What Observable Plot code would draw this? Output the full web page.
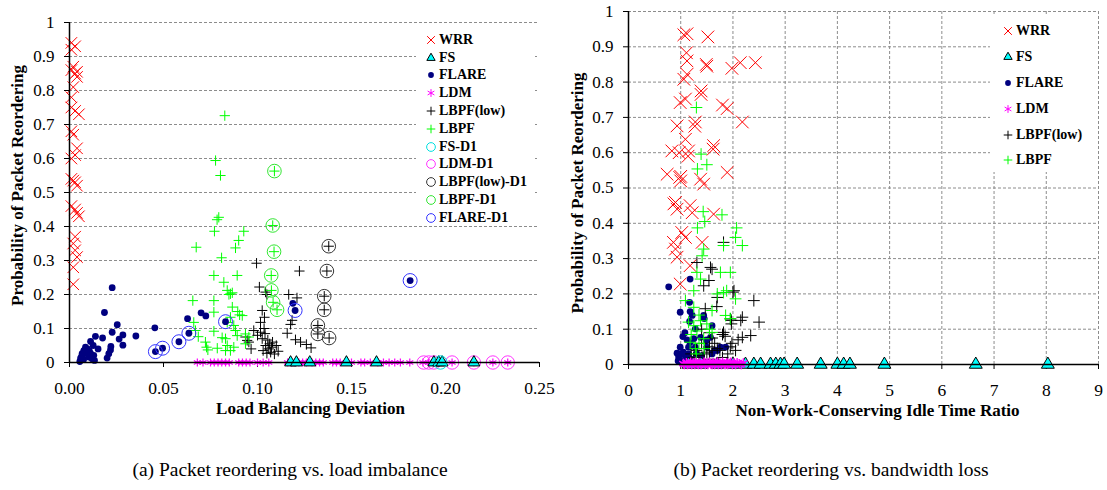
<!DOCTYPE html>
<html><head><meta charset="utf-8">
<script src="https://cdn.jsdelivr.net/npm/d3@7"></script>
<script src="https://cdn.jsdelivr.net/npm/@observablehq/plot@0.6"></script>
<style>
body{margin:0;background:#fff;font-family:"Liberation Serif","Times New Roman",serif;}
#wrap{position:relative;width:1107px;height:490px;overflow:hidden;background:#fff;}
.panel{position:absolute;top:0;}
.legend{position:absolute;background:#fff;font-weight:bold;font-size:14px;color:#000;box-sizing:border-box;}
.legend .row{display:flex;align-items:center;white-space:nowrap;}
.legend svg{flex:none;}
.cap{position:absolute;top:459px;font-size:19.5px;text-align:center;width:540px;color:#000;}
</style></head>
<body><div id="wrap">
<div id="pa" class="panel" style="left:0"></div>
<div id="pb" class="panel" style="left:560px"></div>
<div id="la" class="legend" style="left:416px;top:27px;width:119px;height:196px;padding-top:4px"></div>
<div id="lb" class="legend" style="left:990px;top:14px;width:106px;height:158px;padding-top:4px"></div>
<div class="cap" style="left:20px">(a) Packet reordering vs. load imbalance</div>
<div class="cap" style="left:561px">(b) Packet reordering vs. bandwidth loss</div>
</div>
<script>
// ---------- tick labels & titles ----------
const yTicks = [0, 0.1, 0.2, 0.3, 0.4, 0.5, 0.6, 0.7, 0.8, 0.9, 1];
const xTicksA = [0, 0.05, 0.1, 0.15, 0.2, 0.25];
const xTicksB = [0, 1, 2, 3, 4, 5, 6, 7, 8, 9];
const yTitle = "Probability of Packet Reordering";
const xTitleA = "Load Balancing Deviation";
const xTitleB = "Non-Work-Conserving Idle Time Ratio";
const legendA = ["WRR", "FS", "FLARE", "LDM", "LBPF(low)", "LBPF", "FS-D1", "LDM-D1", "LBPF(low)-D1", "LBPF-D1", "FLARE-D1"];
const legendB = ["WRR", "FS", "FLARE", "LDM", "LBPF(low)", "LBPF"];

// ---------- panel (a): [load balancing deviation, probability] ----------
const WRR_a = [[0.001,0.94],[0.003,0.93],[0.001,0.92],[0.002,0.87],[0.003,0.85],[0.004,0.84],[0.001,0.86],[0.004,0.855],[0.002,0.81],[0.001,0.78],[0.001,0.75],[0.003,0.74],[0.005,0.73],[0.001,0.68],[0.002,0.67],[0.004,0.63],[0.003,0.61],[0.001,0.60],[0.001,0.54],[0.003,0.53],[0.004,0.52],[0.002,0.535],[0.001,0.46],[0.003,0.45],[0.004,0.44],[0.005,0.43],[0.003,0.37],[0.002,0.35],[0.003,0.33],[0.004,0.31],[0.002,0.28],[0.002,0.23]];
const FS_a = [[0.1176,0],[0.1207,0],[0.1278,0],[0.1473,0],[0.1633,0],[0.1938,0],[0.1964,0],[0.1982,0],[0.2151,0]];
const FLARE_a = [[0.0227,0.22],[0.0186,0.147],[0.0254,0.111],[0.0227,0.089],[0.0284,0.081],[0.0353,0.078],[0.0264,0.069],[0.0284,0.051],[0.022,0.047],[0.0138,0.077],[0.0176,0.072],[0.0112,0.062],[0.0126,0.05],[0.0152,0.04],[0.0218,0.037],[0.0209,0.026],[0.02,0.013],[0.0085,0.045],[0.0076,0.035],[0.0067,0.026],[0.0059,0.013],[0.0055,0.003],[0.0094,0.026],[0.0103,0.016],[0.0112,0.027],[0.0129,0.021],[0.012,0.011],[0.0133,0.006],[0.0454,0.102],[0.0457,0.032],[0.0495,0.042],[0.0582,0.061],[0.0635,0.086],[0.0628,0.129],[0.070,0.146],[0.0725,0.137],[0.083,0.12],[0.1188,0.174],[0.120,0.153],[0.1812,0.241],[0.0095,0.04],[0.0105,0.035],[0.0065,0.018],[0.0075,0.009]];
const LDM_a = [[0.068,0],[0.071,0],[0.075,0],[0.077,0],[0.079,0],[0.081,0],[0.083,0],[0.085,0],[0.09,0],[0.092,0],[0.094,0],[0.096,0],[0.1,0],[0.103,0],[0.106,0],[0.116,0],[0.118,0],[0.12,0],[0.122,0],[0.124,0],[0.126,0],[0.129,0],[0.131,0],[0.133,0],[0.135,0],[0.14,0],[0.142,0],[0.144,0],[0.15,0],[0.155,0],[0.157,0],[0.16,0],[0.164,0],[0.167,0],[0.17,0],[0.173,0],[0.176,0],[0.181,0],[0.188,0],[0.191,0],[0.194,0],[0.2035,0],[0.2151,0],[0.2252,0],[0.2331,0]];
const LOW_a = [[0.0995,0.292],[0.101,0.222],[0.1043,0.207],[0.105,0.2],[0.1223,0.269],[0.1166,0.2],[0.121,0.19],[0.1025,0.153],[0.1037,0.133],[0.1016,0.118],[0.0936,0.075],[0.0954,0.06],[0.0966,0.04],[0.1016,0.089],[0.104,0.085],[0.1025,0.07],[0.1055,0.066],[0.1043,0.05],[0.106,0.04],[0.107,0.03],[0.109,0.025],[0.105,0.027],[0.1075,0.045],[0.111,0.033],[0.1176,0.112],[0.1158,0.086],[0.1184,0.124],[0.1202,0.067],[0.1229,0.06],[0.126,0.053],[0.1285,0.043],[0.098,0.094],[0.0945,0.065],[0.1035,0.1],[0.108,0.06],[0.1065,0.055],[0.1,0.08],[0.103,0.035],[0.11,0.05]];
const LBPF_a = [[0.0826,0.726],[0.0777,0.594],[0.0803,0.55],[0.0794,0.427],[0.0785,0.42],[0.0771,0.386],[0.0927,0.386],[0.09,0.359],[0.0883,0.337],[0.0674,0.339],[0.0809,0.308],[0.0768,0.256],[0.0892,0.256],[0.0821,0.236],[0.0856,0.202],[0.0866,0.205],[0.0656,0.182],[0.0768,0.182],[0.0866,0.163],[0.0768,0.148],[0.0919,0.138],[0.0856,0.133],[0.0661,0.118],[0.0839,0.118],[0.0874,0.109],[0.0883,0.094],[0.0768,0.092],[0.0812,0.073],[0.083,0.07],[0.0892,0.079],[0.0936,0.084],[0.0723,0.06],[0.0729,0.045],[0.0839,0.05],[0.0856,0.035],[0.083,0.035],[0.067,0.094],[0.0685,0.076],[0.0736,0.037],[0.0954,0.075],[0.0936,0.055],[0.0874,0.045],[0.0786,0.042],[0.0848,0.2],[0.0839,0.212],[0.0895,0.15],[0.0905,0.14]];
const FS_D1_a = [[0.1973,0]];
const LDM_D1_a = [[0.1884,0],[0.1911,0],[0.1938,0],[0.2035,0],[0.2151,0],[0.2252,0],[0.2331,0]];
const LOW_D1_a = [[0.1379,0.342],[0.1369,0.269],[0.1355,0.195],[0.1355,0.155],[0.1321,0.109],[0.1321,0.084],[0.1381,0.072]];
const LBPF_D1_a = [[0.109,0.563],[0.1081,0.403],[0.1088,0.326],[0.1073,0.256],[0.1074,0.212],[0.1083,0.177],[0.1104,0.155]];
const FLARE_D1_a = [[0.0457,0.032],[0.0495,0.042],[0.0582,0.061],[0.0635,0.086],[0.083,0.12],[0.120,0.153],[0.1812,0.241]];

// ---------- panel (b): [non-work-conserving idle time ratio, probability] ----------
const WRR_b = [[1.12,0.937],[1.06,0.934],[1.52,0.928],[1.11,0.883],[1.12,0.86],[1.49,0.85],[1.5,0.845],[2.14,0.855],[2.43,0.855],[1.98,0.839],[1.12,0.822],[1.06,0.808],[1.39,0.775],[1.39,0.765],[1.09,0.752],[0.99,0.742],[1.8,0.735],[1.89,0.725],[2.18,0.687],[1.28,0.687],[1.27,0.675],[0.93,0.676],[1.09,0.638],[1.63,0.62],[1.62,0.61],[0.83,0.605],[1.15,0.605],[1.14,0.59],[1.89,0.544],[0.74,0.539],[1.0,0.533],[1.0,0.52],[1.38,0.525],[1.44,0.511],[0.9,0.459],[0.93,0.44],[1.18,0.45],[1.22,0.43],[1.63,0.426],[1.02,0.374],[1.09,0.36],[0.86,0.346],[1.41,0.346],[0.9,0.327],[0.93,0.304],[1.18,0.28],[0.99,0.228],[0.87,0.455],[0.97,0.6],[0.98,0.53]];
const FS_b = [[1.15,0],[1.4,0],[1.7,0],[2.0,0],[2.24,0],[2.40,0],[2.53,0],[2.72,0],[2.82,0],[2.91,0],[2.98,0],[3.23,0],[3.68,0],[4.0,0],[4.12,0],[4.24,0],[4.9,0],[6.65,0],[8.03,0]];
const FLARE_b = [[0.77,0.22],[1.18,0.242],[1.17,0.176],[0.99,0.148],[1.18,0.15],[1.22,0.139],[1.17,0.122],[1.28,0.101],[1.04,0.079],[1.25,0.073],[1.18,0.063],[1.15,0.049],[0.99,0.049],[0.93,0.032],[0.96,0.021],[1.0,0.03],[1.05,0.035],[1.1,0.02],[1.15,0.03],[1.2,0.015],[0.95,0.01],[1.5,0.068],[1.57,0.077],[1.5,0.049],[1.76,0.049],[1.86,0.049],[1.70,0.04],[1.44,0.139],[1.45,0.13],[1.6,0.11],[1.38,0.077],[1.49,0.07],[1.28,0.049],[1.6,0.03],[1.65,0.04],[1.02,0.011],[1.09,0.025],[1.12,0.07],[1.08,0.09],[1.3,0.03],[1.4,0.025]];
const LDM_b = [[1.05,0.003],[1.07,0],[1.11,0.005],[1.13,0],[1.16,0.002],[1.19,0.006],[1.21,0],[1.24,0.004],[1.27,0],[1.29,0.006],[1.32,0.002],[1.34,0],[1.37,0.005],[1.39,0],[1.42,0.003],[1.45,0.006],[1.47,0],[1.5,0.004],[1.52,0],[1.55,0.006],[1.57,0.002],[1.6,0],[1.62,0.005],[1.65,0],[1.67,0.003],[1.7,0.006],[1.72,0],[1.75,0.004],[1.78,0],[1.8,0.006],[1.83,0.002],[1.85,0],[1.88,0.005],[1.9,0],[1.93,0.003],[1.96,0.006],[1.99,0],[2.02,0.004],[2.05,0],[2.08,0.005],[2.12,0.002],[2.16,0],[2.2,0.004]];
const LOW_b = [[1.82,0.346],[1.54,0.238],[1.57,0.275],[1.6,0.27],[1.44,0.223],[2.02,0.209],[2.0,0.205],[2.4,0.181],[1.47,0.158],[1.7,0.19],[1.69,0.164],[1.95,0.129],[1.97,0.125],[2.18,0.134],[2.5,0.12],[2.15,0.125],[1.97,0.115],[1.82,0.091],[1.8,0.085],[1.85,0.08],[2.34,0.082],[2.18,0.077],[2.1,0.07],[1.98,0.06],[1.95,0.05],[1.7,0.045],[1.75,0.04],[1.6,0.04],[1.55,0.05],[1.5,0.035],[1.45,0.03],[1.35,0.025],[1.3,0.04],[1.25,0.02],[1.4,0.06],[1.65,0.06],[1.31,0.289],[1.2,0.03],[1.55,0.015],[1.8,0.02],[1.9,0.03],[2.05,0.04],[1.4,0.1],[1.55,0.09],[1.6,0.075]];
const LBPF_b = [[1.3,0.728],[1.39,0.596],[1.5,0.566],[1.32,0.554],[1.43,0.433],[1.79,0.424],[1.46,0.405],[1.32,0.387],[2.07,0.387],[2.05,0.36],[2.18,0.337],[1.82,0.337],[1.44,0.327],[1.41,0.308],[1.31,0.261],[1.76,0.261],[1.95,0.261],[1.38,0.242],[1.25,0.209],[1.82,0.204],[1.88,0.209],[1.70,0.2],[2.05,0.186],[1.09,0.181],[1.25,0.162],[1.6,0.153],[1.86,0.139],[1.95,0.13],[1.38,0.124],[1.5,0.115],[1.25,0.11],[1.31,0.095],[1.6,0.091],[1.44,0.073],[1.18,0.063],[1.35,0.06],[1.28,0.045],[1.45,0.045],[1.3,0.03],[1.2,0.085],[1.55,0.1],[1.15,0.12],[1.35,0.14]];

// ---------- styles ----------
const C = {red:"#ff0000", cyan:"#00ffff", navy:"#000080", mag:"#ff00ff", black:"#000000", green:"#00ff00",
           cyanC:"#00e0e0", magC:"#ff33ff", blackC:"#333333", greenC:"#33e633", blueC:"#3333ff"};
const X = d => d[0], Y = d => d[1];
const dot = (data, o) => Plot.dot(data, {x: X, y: Y, ...o});

const font = "Liberation Serif, Times New Roman, serif";

function frameMarks(xTicks, xFmt, gridX) {
  return [
    Plot.gridY(yTicks.slice(1), {stroke: "#8c8c8c", strokeOpacity: 1, strokeDasharray: "3,2"}),
    ...(gridX ? [Plot.gridX(xTicks.slice(1), {stroke: "#8c8c8c", strokeOpacity: 1, strokeDasharray: "3,2"})] : []),
    Plot.axisY(yTicks, {tickSize: 5, tickPadding: 10, fontSize: 17, label: null, tickFormat: d => String(d)}),
    Plot.axisX(xTicks, {tickSize: 5, tickPadding: 14, fontSize: 17.5, label: null, tickFormat: xFmt}),
  ];
}

// ---------- panel (a) ----------
const pa = Plot.plot({
  width: 560, height: 430,
  marginLeft: 69, marginRight: 21, marginTop: 22, marginBottom: 68,
  style: {fontFamily: font, color: "#000", background: "transparent", overflow: "visible"},
  x: {domain: [0, 0.25]},
  y: {domain: [0, 1]},
  marks: [
    ...frameMarks(xTicksA, d3.format(".2f"), false),
    dot(LDM_a, {symbol: "asterisk", r: 3.8, stroke: C.mag, strokeWidth: 1.2}),
    dot(LDM_D1_a, {symbol: "circle", r: 6.7, stroke: C.magC, fill: "none", strokeWidth: 1}),
    dot(FS_a, {symbol: "triangle", r: 4.4, fill: C.cyan, stroke: C.black, strokeWidth: 1}),
    dot(FS_D1_a, {symbol: "circle", r: 6.7, stroke: C.cyanC, fill: "none", strokeWidth: 1}),
    dot(LOW_a, {symbol: "plus", r: 3.4, stroke: C.black, strokeWidth: 1}),
    dot(LOW_D1_a, {symbol: "plus", r: 3.4, stroke: C.black, strokeWidth: 1}),
    dot(LOW_D1_a, {symbol: "circle", r: 6.8, stroke: C.blackC, fill: "none", strokeWidth: 1}),
    dot(LBPF_a, {symbol: "plus", r: 3.4, stroke: C.green, strokeWidth: 1}),
    dot(LBPF_D1_a, {symbol: "plus", r: 3.4, stroke: C.green, strokeWidth: 1}),
    dot(LBPF_D1_a, {symbol: "circle", r: 6.8, stroke: C.greenC, fill: "none", strokeWidth: 1}),
    dot(WRR_a, {symbol: "times", r: 5.3, stroke: C.red, strokeWidth: 1}),
    dot(FLARE_a, {symbol: "circle", r: 3.4, fill: C.navy, stroke: "none"}),
    dot(FLARE_D1_a, {symbol: "circle", r: 7, stroke: C.blueC, fill: "none", strokeWidth: 1}),
    Plot.ruleX([0], {stroke: "#000", strokeWidth: 1.5}),
    Plot.ruleY([0], {stroke: "#000", strokeWidth: 1.5}),
    Plot.text([xTitleA], {frameAnchor: "bottom", textAnchor: "middle", dy: 51, dx: 6, fontSize: 17, fontWeight: "bold", text: d => d}),
    Plot.text([yTitle], {frameAnchor: "left", textAnchor: "middle", dx: -52, dy: -7, rotate: -90, fontSize: 17, fontWeight: "bold", text: d => d}),
  ]
});
document.getElementById("pa").append(pa);

// ---------- panel (b) ----------
const pb = Plot.plot({
  width: 547, height: 430,
  marginLeft: 68, marginRight: 9, marginTop: 11, marginBottom: 66,
  style: {fontFamily: font, color: "#000", background: "transparent", overflow: "visible"},
  x: {domain: [0, 9]},
  y: {domain: [0, 1]},
  marks: [
    ...frameMarks(xTicksB, d => String(d), true),
    dot(WRR_b, {symbol: "times", r: 5.8, stroke: C.red, strokeWidth: 1}),
    dot(FLARE_b, {symbol: "circle", r: 3.4, fill: C.navy, stroke: "none"}),
    dot(LOW_b, {symbol: "plus", r: 3.9, stroke: C.black, strokeWidth: 1}),
    dot(LBPF_b, {symbol: "plus", r: 3.9, stroke: C.green, strokeWidth: 1}),
    dot(FS_b, {symbol: "triangle", r: 4.8, fill: C.cyan, stroke: C.black, strokeWidth: 1}),
    dot(LDM_b, {symbol: "asterisk", r: 4.5, stroke: C.mag, strokeWidth: 1.5}),
    Plot.ruleX([0], {stroke: "#000", strokeWidth: 1.5}),
    Plot.ruleY([0], {stroke: "#000", strokeWidth: 1.5}),
    Plot.text([xTitleB], {frameAnchor: "bottom", textAnchor: "middle", dy: 51, dx: 14, fontSize: 17, fontWeight: "bold", text: d => d}),
    Plot.text([yTitle], {frameAnchor: "left", textAnchor: "middle", dx: -51, dy: 5, rotate: -90, fontSize: 17, fontWeight: "bold", text: d => d}),
  ]
});
document.getElementById("pb").append(pb);

// ---------- legends (HTML overlay) ----------
function iconSvg(kind) {
  const s = {
    WRR: [d3.symbolTimes, 40, "none", C.red],
    FS: [d3.symbolTriangle, 30, C.cyan, C.black],
    FLARE: [d3.symbolCircle, 26, C.navy, "none"],
    LDM: [d3.symbolAsterisk, 42, "none", C.mag],
    "LBPF(low)": [d3.symbolPlus, 26, "none", C.black],
    LBPF: [d3.symbolPlus, 26, "none", C.green],
    "FS-D1": [d3.symbolCircle, 60, "none", C.cyanC],
    "LDM-D1": [d3.symbolCircle, 60, "none", C.magC],
    "LBPF(low)-D1": [d3.symbolCircle, 60, "none", C.blackC],
    "LBPF-D1": [d3.symbolCircle, 60, "none", C.greenC],
    "FLARE-D1": [d3.symbolCircle, 60, "none", C.blueC],
  }[kind];
  const p = d3.symbol(s[0], s[1])();
  return `<svg width="14" height="14" viewBox="-7 -7 14 14"><path d="${p}" fill="${s[2]}" stroke="${s[3]}" stroke-width="1"/></svg>`;
}
function buildLegend(id, items, rowH, padL) {
  const el = document.getElementById(id);
  el.innerHTML = items.map(k =>
    `<div class="row" style="height:${rowH}px;padding-left:${padL}px"><span style="display:inline-flex;width:15px">${iconSvg(k)}</span><span>${k}</span></div>`
  ).join("");
}
buildLegend("la", legendA, 17.8, 8);
buildLegend("lb", legendB, 25.9, 11);
</script>
</body></html>
